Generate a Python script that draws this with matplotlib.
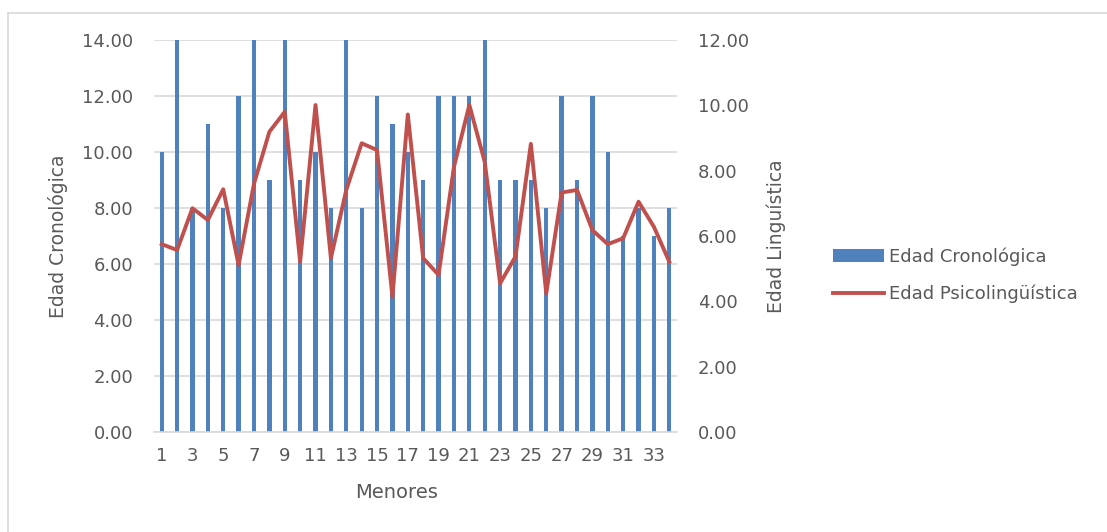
import matplotlib
matplotlib.use("Agg")
import matplotlib.pyplot as plt
from matplotlib.lines import Line2D
import numpy as np

menores = list(range(1, 35))
edad_cronologica = [10, 14, 8, 11, 8, 12, 14, 9, 14, 9,
                    10, 8, 14, 8, 12, 11, 10, 9, 12, 12,
                    12, 14, 9, 9, 9, 8, 12, 9, 12, 10,
                    7, 8, 7, 8]
edad_psicolinguistica = [5.75, 5.57, 6.85, 6.49, 7.43, 5.11, 7.60, 9.19, 9.80, 5.21,
                         10.01, 5.32, 7.41, 8.84, 8.63, 4.14, 9.72, 5.32, 4.81, 8.12,
                         10.01, 8.27, 4.55, 5.37, 8.82, 4.24, 7.33, 7.41, 6.18, 5.75,
                         5.93, 7.05, 6.28, 5.21]
xtick_labels = [str(i) for i in range(1, 35, 2)]

BLUE = "#4F81BD"
RED = "#C0504D"
GREY_TXT = "#595959"
GRID = "#D9D9D9"

W, H = 1107, 532
fig = plt.figure(figsize=(W / 100, H / 100), dpi=100)
fig.patch.set_facecolor("white")

# outer chart border (only top and left visible in the reference crop)
fig.add_artist(Line2D([8 / W, 8 / W], [0, 1 - 13 / H], color=GRID, lw=1.2))
fig.add_artist(Line2D([8 / W, 1], [1 - 13 / H, 1 - 13 / H], color=GRID, lw=1.2))

left, right, top, bottom = 154, 677, 40, 432
ax = fig.add_axes([left / W, 1 - bottom / H, (right - left) / W, (bottom - top) / H])
ax2 = ax.twinx()

bars = ax.bar(menores, edad_cronologica, width=0.28, color=BLUE,
              label="Edad Cronológica", zorder=2)
line, = ax2.plot(menores, edad_psicolinguistica, color=RED, lw=2.8,
                 label="Edad Psicolingüística", zorder=3)

ax.set_xlim(0.5, 34.5)
ax.set_ylim(0, 14)
ax2.set_ylim(0, 12)
ax.set_yticks(np.arange(0, 15, 2))
ax2.set_yticks(np.arange(0, 13, 2))
ax.yaxis.set_major_formatter(matplotlib.ticker.FormatStrFormatter("%.2f"))
ax2.yaxis.set_major_formatter(matplotlib.ticker.FormatStrFormatter("%.2f"))
ax.set_xticks(list(range(1, 35, 2)))
ax.set_xticklabels(xtick_labels)

ax.grid(axis="y", color=GRID, lw=1.2, zorder=0)
ax.set_axisbelow(True)
for a in (ax, ax2):
    for s in a.spines.values():
        s.set_visible(False)
ax.spines["bottom"].set_visible(True)
ax.spines["bottom"].set_color(GRID)
ax.spines["bottom"].set_linewidth(1.2)

ax.tick_params(axis="y", length=0, pad=15, labelsize=13, labelcolor=GREY_TXT)
ax2.tick_params(axis="y", length=0, pad=15, labelsize=13, labelcolor=GREY_TXT)
ax.tick_params(axis="x", length=0, pad=11, labelsize=13, labelcolor=GREY_TXT)

ax.set_xlabel("Menores", fontsize=14, color=GREY_TXT)
ax.xaxis.set_label_coords((397 - left) / (right - left), -(493 - bottom) / (bottom - top),
                          transform=ax.transAxes)
ax.xaxis.label.set_va("center")
ax.set_ylabel("Edad Cronológica", fontsize=13.5, color=GREY_TXT)
ax.yaxis.set_label_coords(-(left - 58) / (right - left), 0.5)
ax.yaxis.label.set_va("center")
ax2.set_ylabel("Edad Linguística", fontsize=13.5, color=GREY_TXT)
ax2.yaxis.set_label_coords((776 - left) / (right - left), 0.5)
ax2.yaxis.label.set_va("center")
ax2.yaxis.label.set_rotation(90)

leg = fig.legend(handles=[bars, line], loc="center left",
                 bbox_to_anchor=(826 / W, 1 - 275 / H),
                 frameon=False, fontsize=13, labelcolor=GREY_TXT,
                 handlelength=2.8, handletextpad=0.3, labelspacing=1.05,
                 borderaxespad=0)

fig.savefig("out.png", dpi=100, facecolor=fig.get_facecolor())
